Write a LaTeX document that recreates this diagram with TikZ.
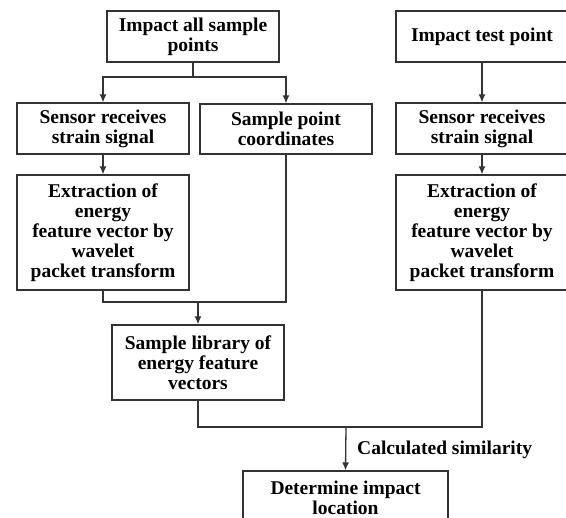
\documentclass[tikz,border=0pt]{standalone}
\usepackage{fontspec}
\setmainfont{Liberation Serif}
\usetikzlibrary{arrows.meta}
\definecolor{linegray}{HTML}{333333}
\begin{document}
\begin{tikzpicture}[x=1pt,y=-1pt,
  box/.style={draw=linegray, line width=1.3pt, minimum width=172pt, inner sep=0pt,
    align=center, font=\fontsize{19.5}{20}\selectfont\bfseries},
  conn/.style={draw=linegray, line width=1.3pt},
  arr/.style={conn, -{Latex[length=8pt,width=7pt]}},
  lbl/.style={inner sep=0pt, font=\fontsize{19.5}{20}\selectfont\bfseries}]
\useasboundingbox (0,0) rectangle (566,518);

\node[box, minimum height=51pt] (A)  at (193,36.5)  {Impact all sample\\points};
\node[box, minimum height=51pt] (SL) at (103,128.5) {Sensor receives\\strain signal};
\node[box, minimum height=50pt] (SP) at (286,129)   {Sample point\\coordinates};
\node[box, minimum height=115pt] (EL) at (103,232.5) {Extraction of\\energy\\feature vector by\\wavelet\\packet transform};
\node[box, minimum height=75pt] (L)  at (198,362.5) {Sample library of\\energy feature\\vectors};

\node[box, minimum height=51pt] (T)  at (482,36.5)  {Impact test point};
\node[box, minimum height=51pt] (SR) at (482,128.5) {Sensor receives\\strain signal};
\node[box, minimum height=115pt] (ER) at (482,232.5) {Extraction of\\energy\\feature vector by\\wavelet\\packet transform};

\node[box, minimum width=205pt, minimum height=54pt] (D) at (345.5,498) {Determine impact\\location};

\coordinate (b1) at (193,77);
\coordinate (m1) at (198,302);
\coordinate (m2) at (346,427);

\draw[conn] (A.south) -- (b1);
\draw[arr] (b1) -| (SL.north);
\draw[arr] (b1) -| (SP.north);
\draw[arr] (SL.south) -- (EL.north);
\draw[arr] (T.south) -- (SR.north);
\draw[arr] (SR.south) -- (ER.north);

\draw[conn] (EL.south) |- (m1) -| (SP.south);
\draw[arr] (m1) -- (L.north);

\draw[conn] (L.south) |- (m2) -| (ER.south);
\draw[arr] (m2) -- (D.north);

\node[lbl, anchor=west] (cs) at (357,450) {Calculated similarity};
\end{tikzpicture}
\end{document}
